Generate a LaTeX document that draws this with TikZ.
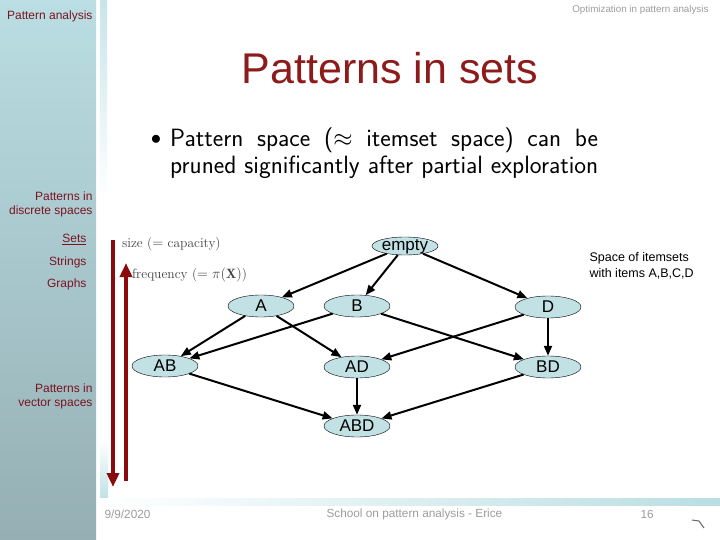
\documentclass[tikz,border=0pt]{standalone}
\usepackage{amsmath}
\usepackage{fontspec}
\usepackage{tikz}
\usetikzlibrary{arrows.meta,shapes.geometric}
\newfontfamily\arial{Liberation Sans}
\definecolor{panelt}{HTML}{BADEE3}
\definecolor{panelm}{HTML}{ADCED3}
\definecolor{panelb}{HTML}{95AFB4}
\definecolor{deepred}{HTML}{7A1421}
\definecolor{titler}{HTML}{8E1B1B}
\definecolor{barred}{HTML}{8A0B0B}
\definecolor{nodefill}{HTML}{C2E1E5}
\definecolor{footg}{HTML}{9C9C9C}
\tikzset{
  setnode/.style={ellipse,draw=black,thin,fill=nodefill,minimum width=66pt,minimum height=22pt,inner sep=0pt,font=\arial\fontsize{17}{19}\selectfont},
  ed/.style={-{Triangle[length=10pt,width=8pt]},line width=2pt},
  bigar/.style={-{Triangle[length=14pt,width=12pt]},line width=4pt,barred},
  side/.style={deepred,font=\arial\fontsize{12}{14}\selectfont,align=right,anchor=east},
  foot/.style={footg,font=\arial\fontsize{11.8}{13}\selectfont,anchor=west}
}

\begin{document}
\begin{tikzpicture}[x=1pt,y=-1pt]
\useasboundingbox (0,0) rectangle (720,540);
\shade[top color=panelt,middle color=panelm,bottom color=panelb] (0,0) rectangle (96,540);
\shade[top color=panelt!80,bottom color=white] (100,0) rectangle (107,200);
\shade[top color=white,bottom color=panelt] (100,440) rectangle (108,505);
\shade[left color=white,right color=panelt] (100,498) rectangle (720,505);
\node[side] (hdr) at (96,16) {Pattern analysis};
\node[footg,font=\arial\fontsize{9.8}{11}\selectfont,anchor=east] (opt) at (712,10) {Optimization in pattern analysis};
\node[titler,font=\arial\fontsize{43}{50}\selectfont] (ttl) at (390,68) {Patterns in sets};
\node[font=\fontsize{20}{24}\selectfont] (blt) at (156,140) {$\bullet$};
\node[font=\sffamily\fontsize{25}{28}\selectfont,anchor=west,inner sep=0pt] (ln1) at (170,140) {\makebox[428pt][s]{Pattern space ($\approx$ itemset space) can be}};
\node[font=\sffamily\fontsize{25}{28}\selectfont,anchor=west,inner sep=0pt] (ln2) at (170,167) {\makebox[428pt][s]{pruned significantly after partial exploration}};
\node[side] (pd) at (96,204) {Patterns in\\discrete spaces};
\node[side] (sets) at (90,240) {\underline{Sets}};
\node[side] (str) at (90,262) {Strings};
\node[side] (gra) at (90,284) {Graphs};
\node[side] (pv) at (96,396) {Patterns in\\vector spaces};
\coordinate (sztop) at (113,240);
\coordinate (szend) at (113,487);
\coordinate (frbot) at (126,481);
\coordinate (frtop) at (126,263);
\draw[bigar] (sztop) -- (szend);
\draw[bigar] (frbot) -- (frtop);
\node[anchor=west,black!75,font=\fontsize{13.5}{15}\selectfont,inner sep=0pt] (szl) at (122,244) {size ($=$ capacity)};
\node[anchor=west,black!75,font=\fontsize{13.5}{15}\selectfont,inner sep=0pt] (frl) at (132,275) {frequency ($=\pi(\mathbf{X})$)};
\node[setnode,minimum height=18pt,inner sep=-2pt,text height=9pt,text depth=0pt] (e) at (405,246) {empty};
\node[setnode] (a) at (261,306) {A};
\node[setnode] (b) at (357,306) {B};
\node[setnode] (d) at (548,307) {D};
\node[setnode] (ab) at (165,366) {AB};
\node[setnode] (ad) at (357,367) {AD};
\node[setnode] (bd) at (548,367) {BD};
\node[setnode] (abd) at (357,426) {ABD};
\foreach \s/\t in {e/a,e/b,e/d,a/ab,a/ad,b/ab,b/bd,d/ad,d/bd,ab/abd,ad/abd,bd/abd}
  \draw[ed] (\s) -- (\t);
\node[anchor=west,align=left,font=\arial\fontsize{12.5}{16}\selectfont] (spc) at (586,266) {Space of itemsets\\with items A,B,C,D};
\node[foot] (dt) at (101,514) {9/9/2020};
\node[foot] (sch) at (323,514) {School on pattern analysis - Erice};
\node[foot] (pg) at (637,514) {16};
\draw[black!60,line width=1pt] (692,520) -- (699,521) -- (704,528);
\end{tikzpicture}
\end{document}
